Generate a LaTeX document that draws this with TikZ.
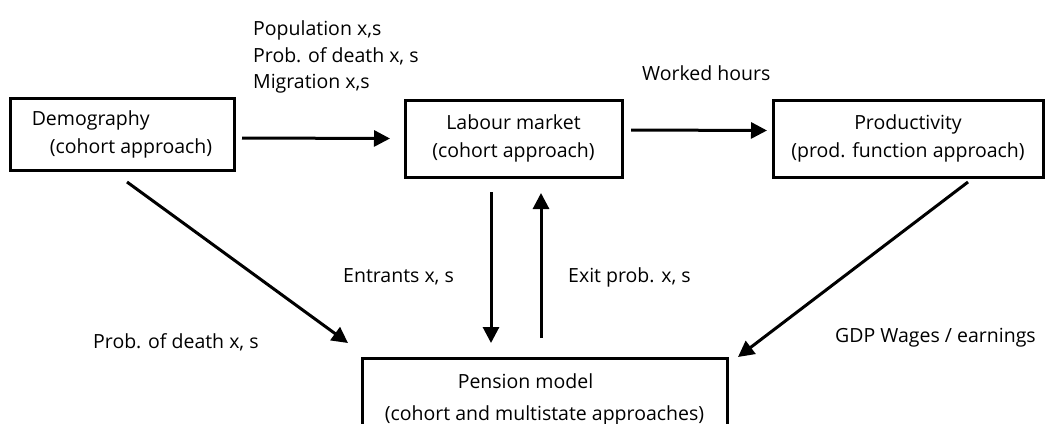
\documentclass[tikz,border=0pt]{standalone}
\usepackage{fontspec}
\setmainfont{Open Sans}
\usetikzlibrary{arrows.meta}

\tikzset{
  box/.style={draw, line width=3pt, outer sep=0pt, inner sep=0pt},
  flow/.style={line width=3pt, -{Triangle[length=16pt,width=16pt]}},
  lbl/.style={anchor=west, inner sep=0pt, align=left}
}

\begin{document}
\begin{tikzpicture}[x=1pt, y=-1pt, font=\fontsize{19.5}{28}\selectfont]
\useasboundingbox (0,0) rectangle (1046,423);

% the four models
\node[box, minimum width=224pt, minimum height=72pt, align=left] (demo) at (122,134)
  {Demography\\\hspace*{18pt}(cohort approach)};
\node[box, minimum width=217pt, minimum height=77pt, align=center] (lab) at (513.5,138.5)
  {Labour market\\(cohort approach)};
\node[box, minimum width=270pt, minimum height=77pt, align=center] (prod) at (908,138.5)
  {Productivity\\(prod. function approach)};
\node[box, minimum width=365pt, minimum height=82pt, align=center] (pen) at (544.5,399)
  {Pension model\hspace*{38pt}\\[4pt](cohort and multistate approaches)};

% flows between models
\draw[flow] ([xshift=8pt,yshift=-4pt]demo.east) -- ([xshift=-15pt]lab.west);
\draw[flow] ([xshift=9pt,yshift=8.5pt]lab.east) -- ([xshift=-6pt,yshift=8pt]prod.west);
\draw[flow] ([xshift=5pt,yshift=-12pt]demo.south) -- ([xshift=-14pt,yshift=15pt]pen.north west);
\draw[flow] ([xshift=-22.5pt,yshift=-15pt]lab.south) -- ([xshift=-53.5pt,yshift=15pt]pen.north);
\draw[flow] ([xshift=-3.5pt,yshift=20pt]pen.north) -- ([xshift=27.5pt,yshift=-16pt]lab.south);
\draw[flow] ([xshift=60pt,yshift=-5pt]prod.south) -- ([xshift=11pt,yshift=1pt]pen.north east);

% labels
\node[lbl, font=\fontsize{19.5}{26.5}\selectfont] (popl) at (253,57)
  {Population x,s\\Prob. of death x, s\\Migration x,s};
\node[lbl] (hours) at (642,73) {Worked hours};
\node[lbl] (entr) at (343,277) {Entrants x, s};
\node[lbl] (exitp) at (568,277) {Exit prob. x, s};
\node[lbl] (death) at (93,342) {Prob. of death x, s};
\node[lbl] (gdp) at (835,338) {GDP Wages / earnings};
\end{tikzpicture}
\end{document}
